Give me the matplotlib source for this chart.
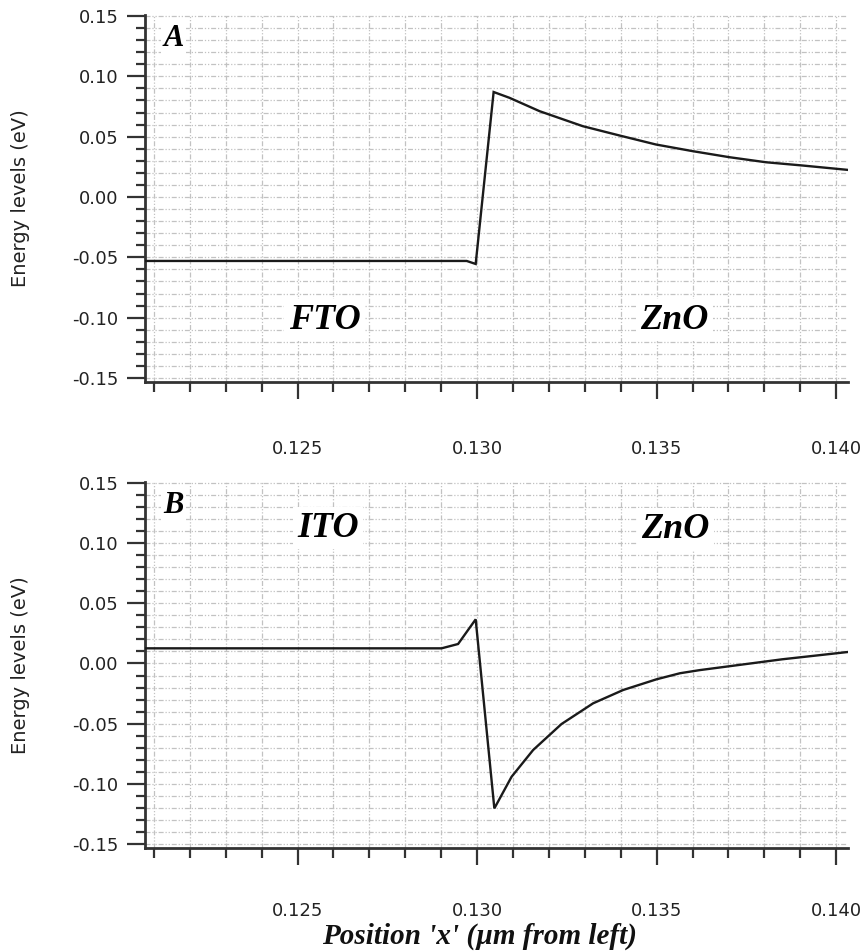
import numpy as np
import matplotlib
matplotlib.use("Agg")
import matplotlib.pyplot as plt

plt.rcParams["axes.unicode_minus"] = False

# Panel A: FTO / ZnO interface band profile
x_a = [0.12075, 0.12971, 0.12996, 0.13046, 0.1309, 0.13174, 0.13294, 0.13396,
       0.13498, 0.13600, 0.13702, 0.13804, 0.13906, 0.14031]
e_a = [-0.053, -0.053, -0.0555, 0.087, 0.0822, 0.0711, 0.0587, 0.0510,
       0.0435, 0.0380, 0.0330, 0.0288, 0.0261, 0.0225]

# Panel B: ITO / ZnO interface band profile
x_b = [0.12075, 0.12901, 0.12947, 0.12996, 0.13048, 0.13096, 0.13156, 0.13235,
       0.13323, 0.13407, 0.13500, 0.13565, 0.1362, 0.1373, 0.1385, 0.1395, 0.14031]
e_b = [0.0126, 0.0126, 0.0162, 0.0367, -0.1204, -0.0941, -0.0719, -0.0503,
       -0.0331, -0.0220, -0.0131, -0.0081, -0.0055, -0.0012, 0.0035, 0.0068, 0.0095]

x_major = [0.125, 0.130, 0.135, 0.140]
y_major = [-0.15, -0.10, -0.05, 0.00, 0.05, 0.10, 0.15]

panels = [
    ("A", x_a, e_a, [("FTO", 0.12575, -0.102), ("ZnO", 0.13549, -0.102)], 30),
    ("B", x_b, e_b, [("ITO", 0.12585, 0.1125), ("ZnO", 0.13552, 0.1115)], 27),
]

W, H = 867, 951
fig = plt.figure(figsize=(W / 100, H / 100), dpi=100)
rects = [
    [145 / W, 569 / H, 703 / W, 367 / H],
    [145 / W, 103 / H, 703 / W, 366 / H],
]

grid_style = dict(color="#c2c2c2", linewidth=0.9,
                  linestyle=(0, (4, 1.5, 1, 1.5, 1, 1.5)))
tick_color = "#333333"
label_font = dict(family="DejaVu Sans", size=13, color="#222222")
serif_bi = dict(family="Liberation Serif", weight="bold", style="italic")

for rect, (tag, xs, es, notes, xpad) in zip(rects, panels):
    ax = fig.add_axes(rect)
    ax.set_xlim(0.12075, 0.14033)
    ax.set_ylim(-0.1533, 0.1508)

    ax.set_xticks(x_major)
    ax.set_xticks(np.round(np.arange(0.121, 0.1405, 0.001), 3), minor=True)
    ax.set_yticks(y_major)
    ax.set_yticks(np.round(np.arange(-0.15, 0.1505, 0.01), 2), minor=True)
    ax.set_xticklabels([f"{v:.3f}" for v in x_major], **label_font)
    ax.set_yticklabels([f"{v:.2f}" for v in y_major], **label_font)

    ax.grid(True, which="both", zorder=0, **grid_style)
    ax.set_axisbelow(True)

    for side in ("top", "right"):
        ax.spines[side].set_visible(False)
    for side in ("left", "bottom"):
        ax.spines[side].set_linewidth(2.0)
        ax.spines[side].set_color(tick_color)

    ax.tick_params(axis="y", which="major", direction="out", length=13,
                   width=1.6, color=tick_color, pad=6)
    ax.tick_params(axis="y", which="minor", direction="out", length=6.5,
                   width=1.6, color=tick_color)
    ax.tick_params(axis="x", which="major", direction="out", length=12,
                   width=1.6, color=tick_color, pad=xpad)
    ax.tick_params(axis="x", which="minor", direction="out", length=7,
                   width=1.6, color=tick_color)

    ax.plot(xs, es, color="#1a1a1a", linewidth=1.7, zorder=3,
            solid_joinstyle="miter")

    ax.text(0.026, 0.975, tag, transform=ax.transAxes, ha="left", va="top",
            fontsize=22, zorder=4, **serif_bi,
            bbox=dict(facecolor="white", edgecolor="none", pad=2))
    for txt, tx, ty in notes:
        ax.text(tx, ty, txt, ha="center", va="center", fontsize=26, zorder=4,
                **serif_bi,
                bbox=dict(facecolor="white", edgecolor="none", pad=3))

    ax.set_ylabel("Energy levels (eV)", family="DejaVu Sans", fontsize=14,
                  color="#222222")
    ax.yaxis.set_label_coords(-0.164, 0.5)

fig.text(480 / W, 1 - 944 / H, "Position 'x' (\u00b5m from left)",
         ha="center", va="baseline", fontsize=21, family="Liberation Serif",
         style="italic", weight="bold", color="#111111")

fig.savefig("out.png", dpi=100)
